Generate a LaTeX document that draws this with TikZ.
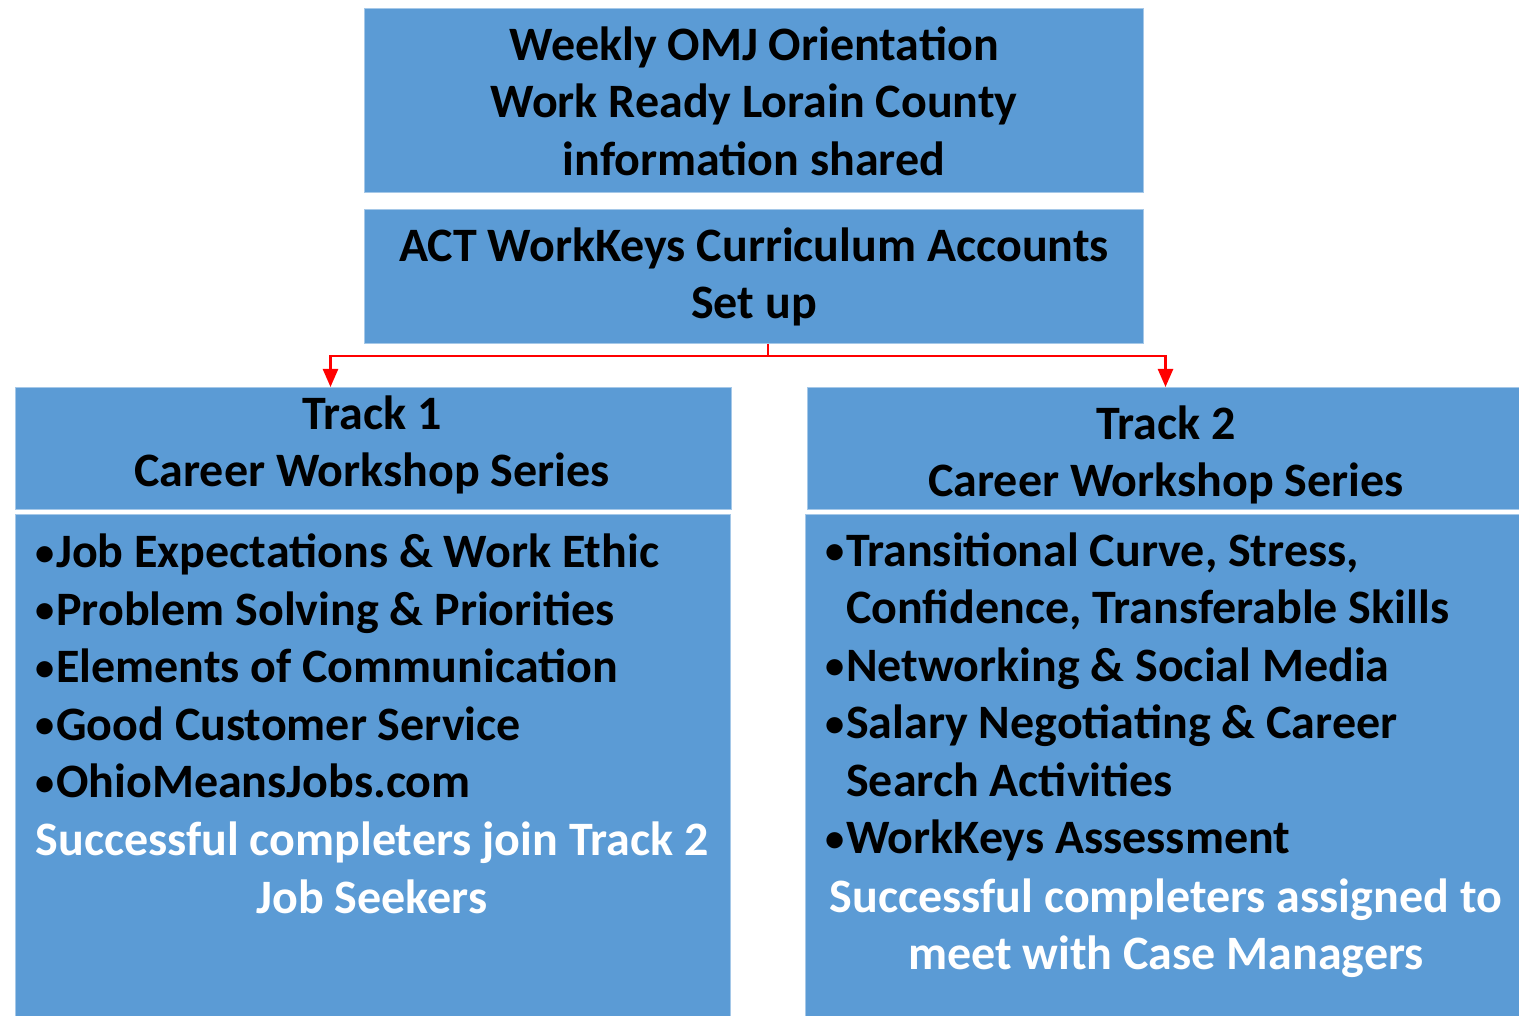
\documentclass[tikz,border=0pt]{standalone}
\usepackage{fontspec}
\setmainfont{Carlito}
\usepackage{tikz}
\usetikzlibrary{arrows.meta,
                calc,
                positioning}

\definecolor{boxblue}{HTML}{5B9BD5}
\newcommand{\dotitem}{\makebox[21pt][l]{\raisebox{2.5pt}{\scalebox{0.8}{•}}}}
\tikzset{
  panel/.style={fill=boxblue, draw=boxblue!55!white, line width=1pt,
                inner sep=0pt, anchor=north west},
  words/.style={inner sep=0pt, font=\bfseries\fontsize{48}{57.5}\selectfont},
  note/.style={words, text=white, align=center},
  link/.style={red, line width=2.5pt, -{Triangle[length=18pt,width=15pt]}}
}

\begin{document}
\begin{tikzpicture}[x=1pt,y=-1pt]
\useasboundingbox (0,0) rectangle (1519,1016);

% boxes
\node[panel, minimum width=779pt, minimum height=184pt] (orient) at (364,8) {};
\node[panel, minimum width=779pt, minimum height=134pt] (setup) at (364,209) {};
\node[panel, minimum width=716pt, minimum height=122pt] (track1) at (15,387) {};
\node[panel, minimum width=715pt, minimum height=510pt] (list1) at (15,514) {};
\node[panel, minimum width=720pt, minimum height=122pt] (track2) at (807,387) {};
\node[panel, minimum width=722pt, minimum height=510pt] (list2) at (805,514) {};

% titles
\node[words, align=center] (orienttxt) at (754,101)
  {Weekly OMJ Orientation\\Work Ready Lorain County\\information shared};
\node[words, align=center] (setuptxt) at (754,277)
  {ACT WorkKeys Curriculum Accounts\\Set up};
\node[words, align=center] (track1txt) at (372,445)
  {Track 1\\Career Workshop Series};
\node[words, align=center] (track2txt) at (1166,455)
  {Track 2\\Career Workshop Series};

% lists
\node[words, align=left, anchor=west] (items1) at (35,666)
  {\dotitem Job Expectations \& Work Ethic\\
   \dotitem Problem Solving \& Priorities\\
   \dotitem Elements of Communication\\
   \dotitem Good Customer Service\\
   \dotitem OhioMeansJobs.com};
\node[note] (done1) at (372,868)
  {Successful completers join Track 2\\Job Seekers};

\node[words, align=left, anchor=west] (items2) at (825,697)
  {\dotitem Transitional Curve, Stress,\\
   \hphantom{\dotitem}Confidence, Transferable Skills\\
   \dotitem Networking \& Social Media\\
   \dotitem Salary Negotiating \& Career\\
   \hphantom{\dotitem}Search Activities\\
   \dotitem WorkKeys Assessment};
\node[note] (done2) at (1166,928)
  {Successful completers assigned to\\meet with Case Managers};

% connector
\coordinate (split) at (768,356);
\draw[link] (setup.south -| split) -- (split) -| ([xshift=-43pt]track1.north);
\draw[link] (split) -| ([xshift=-2pt]track2.north);
\end{tikzpicture}
\end{document}
